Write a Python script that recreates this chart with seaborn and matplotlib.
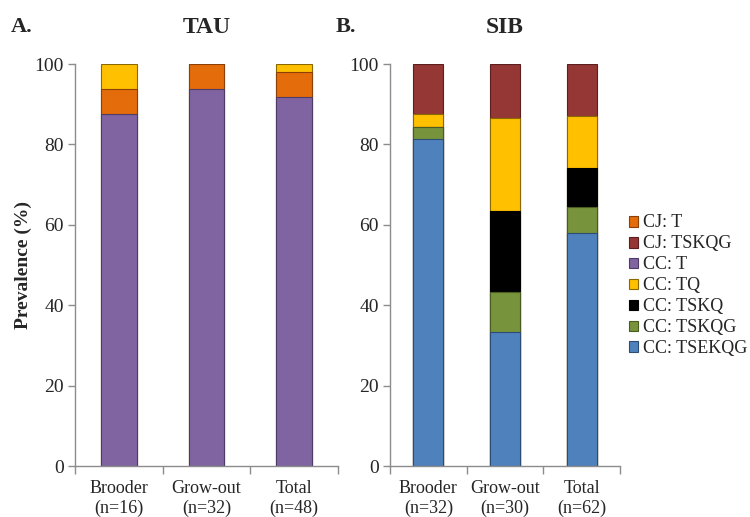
import numpy as np
import pandas as pd
import matplotlib
matplotlib.use("Agg")
import matplotlib.pyplot as plt
import seaborn as sns
from matplotlib.patches import Patch
from matplotlib.ticker import FixedLocator

sns.set_theme(style="white")
plt.rcParams['font.family'] = ['Liberation Serif', 'DejaVu Serif']

# ---- data ----
tau_cats = ["Brooder\n(n=16)", "Grow-out\n(n=32)", "Total\n(n=48)"]
sib_cats = ["Brooder\n(n=32)", "Grow-out\n(n=30)", "Total\n(n=62)"]

# stacking order bottom -> top
tau_series = ["CC: T", "CJ: T", "CC: TQ"]
tau_cc_t = [87.5, 93.75, 91.67]
tau_cj_t = [6.25, 6.25, 6.25]
tau_cc_tq = [6.25, 0.0, 2.08]

sib_series = ["CC: TSEKQG", "CC: TSKQG", "CC: TSKQ", "CC: TQ", "CJ: TSKQG"]
sib_cc_tsekqg = [81.25, 33.33, 58.06]
sib_cc_tskqg = [3.125, 10.0, 6.45]
sib_cc_tskq = [0.0, 20.0, 9.68]
sib_cc_tq = [3.125, 23.33, 12.90]
sib_cj_tskqg = [12.5, 13.33, 12.90]

y_ticks = [0, 20, 40, 60, 80, 100]

legend_order = ["CJ: T", "CJ: TSKQG", "CC: T", "CC: TQ", "CC: TSKQ", "CC: TSKQG", "CC: TSEKQG"]
colors = {
    "CJ: T": "#E46C0A",
    "CJ: TSKQG": "#953735",
    "CC: T": "#8064A2",
    "CC: TQ": "#FFC000",
    "CC: TSKQ": "#000000",
    "CC: TSKQG": "#77933C",
    "CC: TSEKQG": "#4F81BD",
}
edges = {
    "CJ: T": "#8a4006",
    "CJ: TSKQG": "#5a1f1e",
    "CC: T": "#4e3c66",
    "CC: TQ": "#8a6a00",
    "CC: TSKQ": "#000000",
    "CC: TSKQG": "#4a5c24",
    "CC: TSEKQG": "#2c4c73",
}

tau_vals = {"CC: T": tau_cc_t, "CJ: T": tau_cj_t, "CC: TQ": tau_cc_tq}
sib_vals = {"CC: TSEKQG": sib_cc_tsekqg, "CC: TSKQG": sib_cc_tskqg,
            "CC: TSKQ": sib_cc_tskq, "CC: TQ": sib_cc_tq, "CJ: TSKQG": sib_cj_tskqg}

fig = plt.figure(figsize=(7.5, 5.17), dpi=100)
axA = fig.add_axes([0.100, 0.0986, 0.3507, 0.7776])
axB = fig.add_axes([0.520, 0.0986, 0.3067, 0.7776])

def draw(ax, cats, order, vals, width):
    cum = np.zeros(len(cats))
    stacks = []
    for s in order:
        cum = cum + np.array(vals[s])
        stacks.append((s, cum.copy()))
    # draw tallest (top) first so lower segments overlay
    for s, c in reversed(stacks):
        df = pd.DataFrame({"cat": cats, "val": c})
        sns.barplot(data=df, x="cat", y="val", order=cats, color=colors[s],
                    saturation=1, width=width, edgecolor=edges[s], linewidth=0.8,
                    ax=ax, errorbar=None)
    ax.set_ylim(0, 100)
    ax.set_xlim(-0.5, 2.5)
    ax.set_xlabel("")
    ax.set_ylabel("")
    ax.set_yticks(y_ticks)
    ax.tick_params(axis="y", which="major", direction="out", length=5, width=1,
                   color="#8c8c8c", labelsize=14, pad=3, left=True)
    ax.xaxis.set_major_locator(FixedLocator([-0.5, 0.5, 1.5, 2.5]))
    ax.set_xticklabels(["", "", "", ""])
    ax.xaxis.set_minor_locator(FixedLocator([0, 1, 2]))
    ax.set_xticklabels(cats, minor=True)
    ax.tick_params(axis="x", which="major", direction="out", length=6, width=1,
                   color="#8c8c8c", bottom=True)
    ax.tick_params(axis="x", which="minor", length=0, labelsize=13, pad=10, bottom=True)
    for lab in ax.get_xticklabels(minor=True):
        lab.set_linespacing(1.2)
    for sp in ["top", "right"]:
        ax.spines[sp].set_visible(False)
    for sp in ["left", "bottom"]:
        ax.spines[sp].set_color("#8c8c8c")
        ax.spines[sp].set_linewidth(1)

draw(axA, tau_cats, tau_series, tau_vals, 0.41)
draw(axB, sib_cats, sib_series, sib_vals, 0.39)

axA.set_ylabel("Prevalence (%)", fontsize=14, fontweight="bold", labelpad=2)
axA.set_title("TAU", fontsize=17, fontweight="bold", pad=22)
axB.set_title("SIB", fontsize=17, fontweight="bold", pad=22)
fig.text(0.015, 0.948, "A.", fontsize=16, fontweight="bold", ha="left", va="center")
fig.text(0.447, 0.948, "B.", fontsize=16, fontweight="bold", ha="left", va="center")

handles = [Patch(facecolor=colors[s], edgecolor=edges[s], linewidth=0.8, label=s)
           for s in legend_order]
fig.legend(handles=handles, loc="center left", bbox_to_anchor=(0.838, 0.447),
           frameon=False, fontsize=13, handlelength=0.55, handleheight=0.55,
           handletextpad=0.25, labelspacing=0.22, borderaxespad=0, borderpad=0)

fig.savefig("out.png", dpi=100)
